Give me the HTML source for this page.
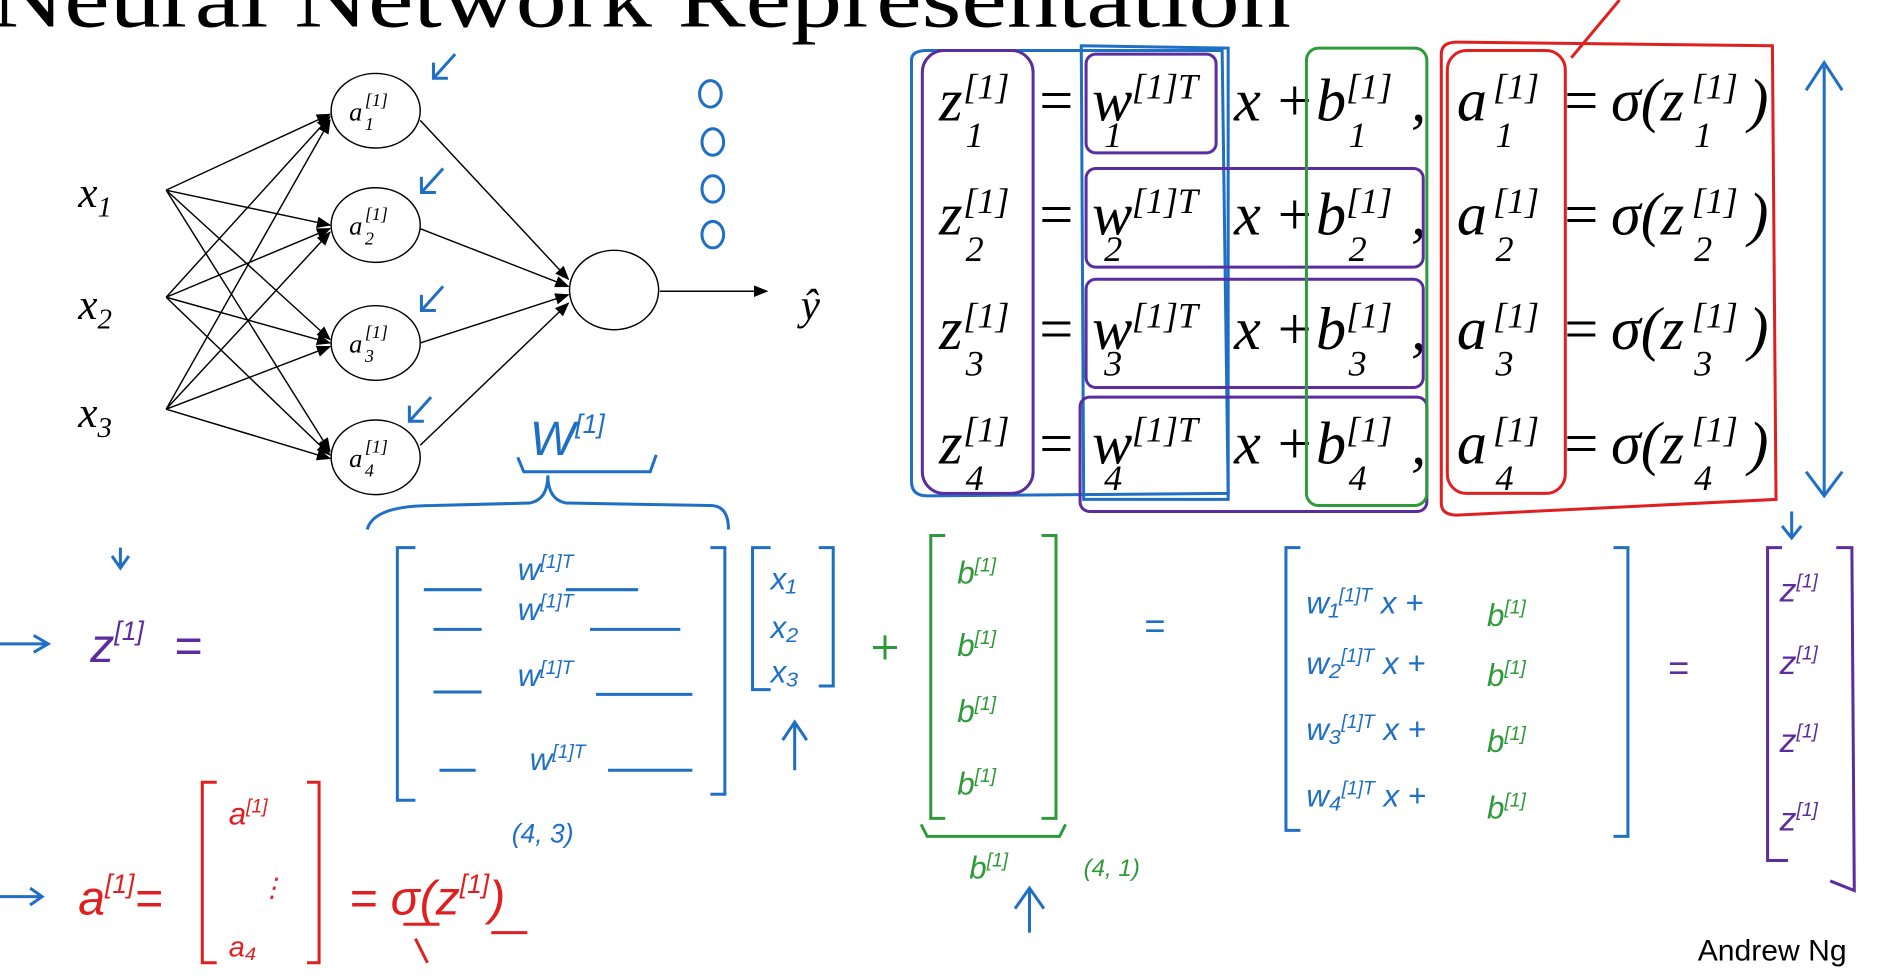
<!DOCTYPE html>
<html><head><meta charset="utf-8"><style>
html,body{margin:0;padding:0;background:#fff;width:1888px;height:976px;overflow:hidden}
svg{display:block}
.m{font-family:"Liberation Serif",serif;font-style:italic}
.h{font-family:"Liberation Sans",sans-serif;font-style:italic}
</style></head><body>
<svg id="sv" width="1888" height="976" viewBox="0 0 1568 811" preserveAspectRatio="none">
<defs><marker id="ar" markerWidth="10" markerHeight="8" refX="9" refY="4" orient="auto"><path d="M0,0 L10,4 L0,8 z" fill="#000"/></marker></defs>
<text x="-8" y="22" font-family="Liberation Serif,serif" font-size="70" textLength="1080" lengthAdjust="spacingAndGlyphs">Neural Network Representation</text>

<g stroke="#000" stroke-width="1.2" fill="none">
<g marker-end="url(#ar)">
<line x1="138" y1="158" x2="274" y2="95"/><line x1="138" y1="158" x2="274" y2="187"/><line x1="138" y1="158" x2="274" y2="282"/><line x1="138" y1="158" x2="274" y2="375"/>
<line x1="138" y1="247" x2="274" y2="97"/><line x1="138" y1="247" x2="274" y2="190"/><line x1="138" y1="247" x2="274" y2="285"/><line x1="138" y1="247" x2="274" y2="378"/>
<line x1="138" y1="340" x2="274" y2="100"/><line x1="138" y1="340" x2="274" y2="193"/><line x1="138" y1="340" x2="274" y2="288"/><line x1="138" y1="340" x2="274" y2="381"/>
<line x1="349" y1="100" x2="472" y2="232"/><line x1="349" y1="190" x2="472" y2="238"/><line x1="349" y1="285" x2="472" y2="245"/><line x1="349" y1="370" x2="472" y2="252"/>
<line x1="548" y1="242" x2="637" y2="242"/>
</g>
<ellipse cx="312" cy="92" rx="37" ry="31"/><ellipse cx="312" cy="187" rx="37" ry="31"/><ellipse cx="312" cy="285" rx="37" ry="31"/><ellipse cx="312" cy="380" rx="37" ry="31"/>
<ellipse cx="510" cy="241" rx="37" ry="33"/>
</g>
<g class="m" font-size="36">
<text x="65" y="172">x<tspan font-size="24" dy="8">1</tspan></text>
<text x="65" y="265">x<tspan font-size="24" dy="8">2</tspan></text>
<text x="65" y="355">x<tspan font-size="24" dy="8">3</tspan></text>
<text x="665" y="265">ŷ</text>
</g>
<g class="m" font-size="22">
<text x="290" y="100">a</text><text x="303" y="88" font-size="15">[1]</text><text x="303" y="108" font-size="15">1</text>
<text x="290" y="195">a</text><text x="303" y="183" font-size="15">[1]</text><text x="303" y="203" font-size="15">2</text>
<text x="290" y="293">a</text><text x="303" y="281" font-size="15">[1]</text><text x="303" y="301" font-size="15">3</text>
<text x="290" y="388">a</text><text x="303" y="376" font-size="15">[1]</text><text x="303" y="396" font-size="15">4</text>
</g>
<g stroke="#1f6fc5" stroke-width="2.5" fill="none">
<path d="M378,45 L360,65 M360,52 L360,65 L372,65"/><path d="M368,140 L350,160 M350,147 L350,160 L362,160"/>
<path d="M368,238 L350,258 M350,245 L350,258 L362,258"/><path d="M358,330 L340,350 M340,337 L340,350 L352,350"/>
<ellipse cx="590" cy="78" rx="9" ry="11"/><ellipse cx="592" cy="118" rx="9" ry="11"/><ellipse cx="592" cy="157" rx="9" ry="11"/><ellipse cx="592" cy="195" rx="9" ry="11"/>
<path d="M1515,55 L1515,410 M1500,75 L1515,52 L1530,75 M1500,392 L1515,412 L1530,392"/>
<path d="M757,50 Q757,42 770,42 L1015,42 L1020,410 L770,412 Q757,412 757,400 Z"/>
<path d="M898,38 L1020,40 L1020,415 L900,415 Z"/>
</g>
<g id="eq" class="m"></g>
<g fill="none" stroke-width="2.5">
<rect x="766" y="42" width="92" height="368" rx="18" stroke="#5b2d9e"/>
<rect x="902" y="45" width="108" height="82" rx="8" stroke="#5b2d9e"/>
<rect x="902" y="140" width="280" height="82" rx="8" stroke="#5b2d9e"/>
<rect x="902" y="232" width="280" height="90" rx="8" stroke="#5b2d9e"/>
<rect x="897" y="330" width="288" height="95" rx="8" stroke="#5b2d9e"/>
<rect x="1085" y="40" width="100" height="380" rx="10" stroke="#2e9a3a"/>
<path d="M1197,45 Q1197,35 1210,35 L1472,38 L1475,415 L1210,428 Q1197,428 1197,418 Z" stroke="#e02020"/>
<rect x="1202" y="42" width="98" height="368" rx="16" stroke="#e02020"/>
<path d="M1305,48 L1345,0" stroke="#e02020"/>
</g>
<g class="h">
<g stroke="#1f6fc5" stroke-width="2.5" fill="none">
<path d="M305,440 Q310,420 360,420 L440,418 Q455,415 455,395 Q455,415 470,418 L590,420 Q605,420 605,440"/>
<path d="M430,380 L435,392 L540,392 L545,378"/>
<path d="M345,455 L330,455 L330,665 L345,665 M590,455 L602,455 L602,660 L590,660"/>
<path d="M352,490 L400,490 M470,490 L530,490 M360,523 L400,523 M490,523 L565,523 M360,575 L400,575 M495,577 L575,577 M365,640 L395,640 M505,640 L575,640"/>
<path d="M640,455 L625,455 L625,573 L640,573 M680,455 L692,455 L692,570 L680,570"/>
<path d="M660,640 L660,602 M650,615 L660,600 L670,615"/>
<path d="M100,455 L100,470 M93,462 L100,472 L107,462 M0,535 L40,535 M28,528 L40,535 L28,542"/>
<path d="M1080,455 L1068,455 L1068,690 L1080,690 M1340,455 L1352,455 L1352,695 L1340,695"/>
<path d="M1488,425 L1488,445 M1480,437 L1488,447 L1496,437"/>
<path d="M0,745 L35,745 M25,738 L35,745 L25,752"/>
</g>
<text x="440" y="378" font-size="40" fill="#1f6fc5">W<tspan font-size="22" dy="-18">[1]</tspan></text>
<text x="430" y="482" font-size="26" fill="#1f6fc5">w<tspan font-size="16" dy="-10">[1]T</tspan></text>
<text x="430" y="515" font-size="26" fill="#1f6fc5">w<tspan font-size="16" dy="-10">[1]T</tspan></text>
<text x="430" y="570" font-size="26" fill="#1f6fc5">w<tspan font-size="16" dy="-10">[1]T</tspan></text>
<text x="440" y="640" font-size="26" fill="#1f6fc5">w<tspan font-size="16" dy="-10">[1]T</tspan></text>
<text x="425" y="700" font-size="22" fill="#1f6fc5">(4, 3)</text>
<text x="640" y="490" font-size="26" fill="#1f6fc5">x₁</text>
<text x="640" y="530" font-size="26" fill="#1f6fc5">x₂</text>
<text x="640" y="567" font-size="26" fill="#1f6fc5">x₃</text>
<text x="75" y="550" font-size="40" fill="#5b2d9e">z<tspan font-size="22" dy="-18">[1]</tspan><tspan dx="25" dy="18">=</tspan></text>
<text x="950" y="530" font-size="30" fill="#1f6fc5">=</text>
<text x="1085" y="510" font-size="26" fill="#1f6fc5">w₁<tspan font-size="16" dy="-10">[1]T</tspan><tspan dy="10"> x +</tspan></text>
<text x="1085" y="560" font-size="26" fill="#1f6fc5">w₂<tspan font-size="16" dy="-10">[1]T</tspan><tspan dy="10"> x +</tspan></text>
<text x="1085" y="615" font-size="26" fill="#1f6fc5">w₃<tspan font-size="16" dy="-10">[1]T</tspan><tspan dy="10"> x +</tspan></text>
<text x="1085" y="670" font-size="26" fill="#1f6fc5">w₄<tspan font-size="16" dy="-10">[1]T</tspan><tspan dy="10"> x +</tspan></text>
<text x="1385" y="565" font-size="30" fill="#5b2d9e">=</text>
<g stroke="#5b2d9e" stroke-width="2.5" fill="none"><path d="M1480,455 L1468,455 L1468,715 L1485,715 M1525,455 L1538,455 L1540,740 L1520,732"/></g>
<text x="1478" y="500" font-size="28" fill="#5b2d9e">z<tspan font-size="16" dy="-12">[1]</tspan></text>
<text x="1478" y="560" font-size="28" fill="#5b2d9e">z<tspan font-size="16" dy="-12">[1]</tspan></text>
<text x="1478" y="625" font-size="28" fill="#5b2d9e">z<tspan font-size="16" dy="-12">[1]</tspan></text>
<text x="1478" y="690" font-size="28" fill="#5b2d9e">z<tspan font-size="16" dy="-12">[1]</tspan></text>
<g stroke="#2e9a3a" stroke-width="2.5" fill="none">
<path d="M785,445 L773,445 L773,680 L785,680 M865,445 L877,445 L877,680 L865,680"/>
<path d="M765,685 L770,695 L880,695 L885,685"/>
<path d="M735,528 L735,548 M725,538 L745,538"/>
</g>
<text x="795" y="485" font-size="26" fill="#2e9a3a">b<tspan font-size="16" dy="-10">[1]</tspan></text>
<text x="795" y="545" font-size="26" fill="#2e9a3a">b<tspan font-size="16" dy="-10">[1]</tspan></text>
<text x="795" y="600" font-size="26" fill="#2e9a3a">b<tspan font-size="16" dy="-10">[1]</tspan></text>
<text x="795" y="660" font-size="26" fill="#2e9a3a">b<tspan font-size="16" dy="-10">[1]</tspan></text>
<text x="805" y="730" font-size="26" fill="#2e9a3a">b<tspan font-size="16" dy="-10">[1]</tspan></text>
<text x="900" y="728" font-size="20" fill="#2e9a3a">(4, 1)</text>
<text x="1235" y="520" font-size="26" fill="#2e9a3a">b<tspan font-size="16" dy="-10">[1]</tspan></text>
<text x="1235" y="570" font-size="26" fill="#2e9a3a">b<tspan font-size="16" dy="-10">[1]</tspan></text>
<text x="1235" y="625" font-size="26" fill="#2e9a3a">b<tspan font-size="16" dy="-10">[1]</tspan></text>
<text x="1235" y="680" font-size="26" fill="#2e9a3a">b<tspan font-size="16" dy="-10">[1]</tspan></text>
<path d="M855,775 L855,740 M843,755 L855,738 L867,755" stroke="#1f6fc5" stroke-width="2.5" fill="none"/>
<text x="65" y="760" font-size="40" fill="#e02020">a<tspan font-size="22" dy="-18">[1]</tspan><tspan dy="18">=</tspan></text>
<g stroke="#e02020" stroke-width="2.5" fill="none">
<path d="M180,650 L168,650 L168,800 L180,800 M255,650 L265,650 L265,800 L255,800"/>
<path d="M335,768 L365,768 M345,780 L355,800 M408,775 L438,775"/>
</g>
<text x="190" y="685" font-size="26" fill="#e02020">a<tspan font-size="16" dy="-10">[1]</tspan></text>
<text x="215" y="745" font-size="22" fill="#e02020">⋮</text>
<text x="190" y="795" font-size="24" fill="#e02020">a₄</text>
<text x="290" y="760" font-size="40" fill="#e02020">= σ(z<tspan font-size="22" dy="-18">[1]</tspan><tspan dy="18">)</tspan></text>
</g>
<text x="1410" y="798" font-family="Liberation Sans,sans-serif" font-size="25">Andrew Ng</text>
</svg>
<script>
const rows=['1','2','3','4'];
const baseY=[100,195,290,385];
const eq=document.getElementById('eq');
function t(x,y,s,fs){
  const e=document.createElementNS('http://www.w3.org/2000/svg','text');
  e.setAttribute('x',x);e.setAttribute('y',y);e.setAttribute('font-size',fs);
  
  
  e.textContent=s;eq.appendChild(e);
}
rows.forEach((r,i)=>{
  const y=baseY[i];
  t(780,y,'z',50);t(800,y-18,'[1]',30);t(802,y+22,r,30);
  t(860,y,'=',50);
  t(907,y,'w',50);t(940,y-18,'[1]T',30);t(917,y+22,r,30);
  t(1025,y,'x',50);t(1058,y,'+',50);
  t(1093,y,'b',50);t(1118,y-18,'[1]',30);t(1120,y+22,r,30);
  t(1172,y,',',50);
  t(1210,y,'a',50);t(1240,y-18,'[1]',30);t(1242,y+22,r,30);
  t(1296,y,'=',50);
  t(1338,y,'σ(z',50);t(1405,y-18,'[1]',30);t(1407,y+22,r,30);t(1452,y,')',50);
});
</script>
</body></html>
